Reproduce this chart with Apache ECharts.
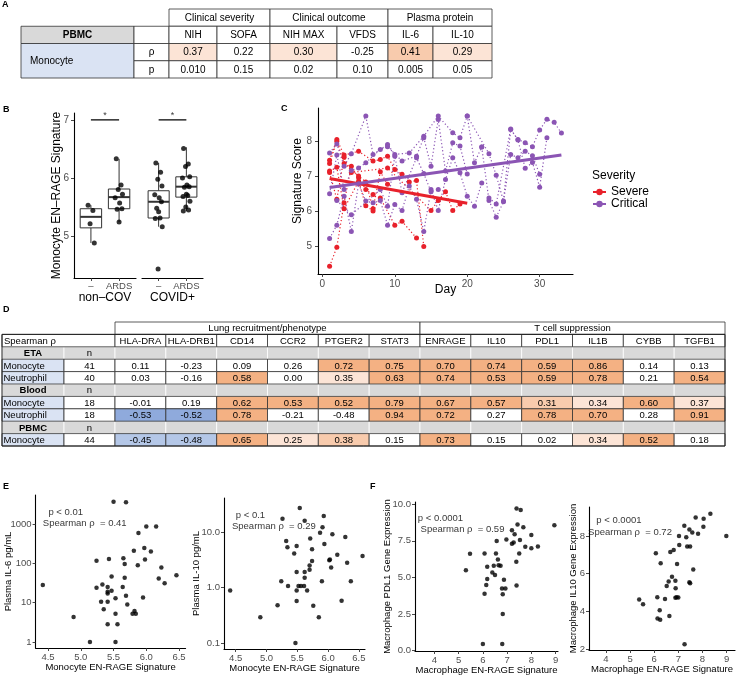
<!DOCTYPE html>
<html><head><meta charset="utf-8">
<script src="https://cdn.jsdelivr.net/npm/echarts@6/dist/echarts.min.js"></script>
<style>html,body{margin:0;padding:0;background:#fff}#c{width:736px;height:675px}</style>
</head><body><div id="c"></div>
<script>
const FONT = "'Liberation Sans', Arial, Helvetica, sans-serif";

// ---------------- Panel A data ----------------
const tableAGroups = ['Clinical severity', 'Clinical outcome', 'Plasma protein'];
const tableAColumns = ['NIH', 'SOFA', 'NIH MAX', 'VFDS', 'IL-6', 'IL-10'];
const tableARho = [0.37, 0.22, 0.30, -0.25, 0.41, 0.29];
const tableAP = ['0.010', '0.15', '0.02', '0.10', '0.005', '0.05'];
const tableATier = [1, 0, 1, 0, 2, 1];

// ---------------- Panel B data ----------------
const boxCategories = ['–', 'ARDS'];
const facetNames = ['non–COV', 'COVID+'];
const nonCovBox = [[4.88, 5.14, 5.33, 5.47, 5.53], [5.24, 5.47, 5.67, 5.81, 6.33]];
const covidBox = [[5.16, 5.31, 5.59, 5.78, 6.26], [5.43, 5.67, 5.85, 6.02, 6.53]];
const nonCovNeg = [5.53, 5.44, 5.21, 4.88];
const nonCovArds = [6.33, 5.88, 5.80, 5.72, 5.66, 5.57, 5.47, 5.46, 5.24];
const covidNeg = [6.26, 6.10, 5.98, 5.86, 5.71, 5.66, 5.59, 5.48, 5.42, 5.31, 5.30, 5.16, 4.43];
const covidArds = [6.51, 6.24, 6.20, 6.02, 6.00, 5.88, 5.85, 5.84, 5.72, 5.70, 5.68, 5.60, 5.50, 5.45, 5.43];
const sigLevel = 7.0;

// ---------------- Panel C data ----------------
const sev1 = [[1,4.41],[2,4.96],[3,6.23],[4,7.28],[5,6.95],[6,6.61],[7,6.47]];
const sev2 = [[1,7.45],[2,8.05],[3,7.60],[5,7.71],[7,7.43],[8,7.47],[9,7.57],[10,7.19],[11,7.05],[12,6.83],[13,6.87],[14,4.98]];
const sev3 = [[1,7.14],[2,7.25],[3,6.06],[5,6.85],[6,6.15],[7,6.00],[8,6.37],[10,5.59],[11,5.70],[13,5.22]];
const sev4 = [[1,7.36],[2,8.00],[3,7.36],[5,7.00],[6,6.83],[7,6.06],[8,7.12],[9,6.76]];
const sev5 = [[1,7.10],[2,6.33],[3,7.54],[4,7.10],[9,7.23],[15,6.01],[16,6.30],[17,6.55],[18,6.01],[19,6.20]];
const crit1 = [[1,7.66],[2,7.92],[3,7.28],[4,7.64],[6,8.72],[7,7.62],[9,7.90],[10,7.62],[12,7.66],[14,8.14],[16,8.72],[18,8.24],[19,8.10],[20,8.72],[21,7.38],[22,7.83]];
const crit2 = [[1,6.49],[2,7.60],[3,6.61],[4,7.16],[5,7.23],[6,7.38],[8,7.76],[9,7.84],[11,7.43],[13,7.57],[14,8.10],[15,7.28],[16,8.62],[17,7.14],[18,7.95],[19,7.86],[20,7.06]];
const crit3 = [[1,5.21],[2,5.59],[3,6.42],[4,5.41],[5,6.78],[6,6.28],[7,6.23],[8,6.30],[9,5.59],[10,6.18],[11,6.01],[12,6.71],[13,6.33],[14,5.41],[15,6.61],[16,6.01],[17,6.90],[18,7.52],[19,7.09],[20,6.42],[21,6.13],[22,6.80]];
const crit4 = [[2,6.30],[4,5.89],[8,6.61],[9,6.13],[10,7.57],[11,6.52],[13,7.52],[14,7.07],[15,6.55],[16,6.61]];
const crit5 = [[20,8.72],[23,7.64],[24,7.02],[25,6.28],[26,8.33],[27,8.05],[28,7.95],[29,7.84],[30,8.32],[31,8.63],[32,8.54],[33,8.23]];
const crit6 = [[22,7.83],[23,6.30],[24,5.82],[25,6.26],[26,7.62],[27,7.52],[28,7.71],[29,7.58],[30,7.05]];
const crit7 = [[23,6.37],[24,6.20],[26,8.35],[27,8.03],[28,7.22],[29,7.39],[30,6.68],[31,8.10]];
const severeTrend = [[1, 6.93], [20, 6.22]];
const criticalTrend = [[1, 6.67], [33, 7.60]];
const severityNames = ['Severe', 'Critical'];

// ---------------- Panel D data ----------------
const dGroups = ['Lung recruitment/phenotype', 'T cell suppression'];
const dGenes = ['HLA-DRA','HLA-DRB1','CD14','CCR2','PTGER2','STAT3','ENRAGE','IL10','PDL1','IL1B','CYBB','TGFB1'];
const dTissues = ['ETA', 'Blood', 'PBMC'];
const dCellTypes = ['Monocyte', 'Neutrophil', 'Monocyte', 'Neutrophil', 'Monocyte'];
const dTissueOf = [0, 0, 1, 1, 2];
const dN = [41, 40, 18, 18, 44];
const dRho = [
  [0.11, -0.23, 0.09, 0.26, 0.72, 0.75, 0.70, 0.74, 0.59, 0.86, 0.14, 0.13],
  [0.03, -0.16, 0.58, 0.00, 0.35, 0.63, 0.74, 0.53, 0.59, 0.78, 0.21, 0.54],
  [-0.01, 0.19, 0.62, 0.53, 0.52, 0.79, 0.67, 0.57, 0.31, 0.34, 0.60, 0.37],
  [-0.53, -0.52, 0.78, -0.21, -0.48, 0.94, 0.72, 0.27, 0.78, 0.70, 0.28, 0.91],
  [-0.45, -0.48, 0.65, 0.25, 0.38, 0.15, 0.73, 0.15, 0.02, 0.34, 0.52, 0.18]
];
const dTier = [
  [0,0,0,0,3,3,3,3,3,3,0,0],
  [0,0,3,0,1,3,3,3,3,3,0,3],
  [0,0,3,3,3,3,3,3,2,1,3,1],
  [-3,-3,3,0,0,3,3,0,3,3,0,3],
  [-2,-2,3,1,2,0,3,0,0,1,3,0]
];

// ---------------- Panel E / F data ----------------
const il6Data = [[5.50,3700],[5.69,3600],[6.00,870],[6.15,870],[5.88,590],[5.81,210],[5.97,245],[6.07,200],[5.98,125],[5.65,135],[5.43,130],[5.24,117],[5.67,96],[5.87,89],[6.23,79],[6.46,50],[5.47,46],[5.67,43],[6.19,41],[6.28,31],[5.33,29],[4.42,28],[5.24,24],[5.41,25],[5.64,25],[5.41,19],[5.47,20],[5.41,17],[5.53,13],[5.69,15],[5.95,13.5],[5.31,10.5],[5.41,10.5],[5.71,9],[5.35,6.8],[5.53,5.2],[5.82,6.1],[5.79,5.2],[5.84,5.2],[4.89,4.3],[5.41,2.8],[5.56,2.8],[5.14,1.0],[5.53,1.0]];
const il10Data = [[5.54,27],[5.26,17.3],[5.62,16],[5.93,19.5],[5.91,12.2],[5.87,9.7],[6.07,9.1],[6.28,8.1],[5.71,7.6],[5.32,6.9],[5.34,5.3],[5.49,5.6],[5.74,4.9],[5.94,6.1],[5.45,4.1],[6.15,3.9],[6.56,3.7],[5.74,3.0],[6.02,3.1],[6.03,3.2],[6.31,2.8],[5.70,2.5],[5.70,2.1],[6.05,2.3],[5.49,1.9],[5.62,1.9],[5.62,1.5],[5.24,1.3],[5.90,1.3],[6.37,1.3],[5.35,1.07],[5.52,1.07],[5.56,1.07],[5.61,1.07],[4.41,0.88],[5.49,0.88],[5.66,0.88],[5.49,0.57],[6.22,0.58],[5.18,0.48],[5.76,0.47],[4.90,0.29],[5.85,0.29],[5.47,0.10]];
const pdl1Data = [[7.39,9.70],[7.56,9.61],[8.95,8.57],[7.43,8.61],[7.67,8.43],[7.20,8.23],[7.31,7.95],[8.00,7.89],[6.97,7.59],[6.57,7.48],[7.53,7.55],[7.20,7.30],[7.27,7.39],[7.75,7.09],[8.00,7.00],[8.27,7.11],[5.47,6.61],[6.07,6.64],[6.54,6.64],[7.50,6.64],[6.62,6.23],[6.65,5.84],[6.73,5.80],[6.18,5.73],[7.38,6.07],[5.30,5.50],[6.45,5.80],[6.39,5.34],[6.50,5.16],[6.18,4.89],[6.87,4.84],[7.39,4.45],[6.14,4.48],[6.79,4.25],[6.93,4.25],[6.07,3.89],[6.82,3.86],[6.82,2.50],[6.00,0.45],[6.80,0.45]];
const macIl10Data = [[8.33,9.18],[7.72,8.98],[8.05,8.91],[7.25,8.54],[8.04,8.49],[7.46,8.35],[7.58,8.19],[7.82,8.12],[8.99,8.00],[7.03,8.00],[7.33,7.93],[6.81,7.26],[7.04,7.52],[7.37,7.45],[7.49,7.45],[6.67,7.15],[6.07,7.08],[6.27,6.55],[6.95,6.51],[7.62,6.22],[6.74,5.84],[6.60,5.58],[6.88,5.62],[7.46,5.55],[7.49,5.49],[6.52,5.35],[6.89,5.23],[6.13,4.75],[6.88,4.72],[6.93,4.75],[7.00,4.73],[6.45,4.66],[5.38,4.63],[5.54,4.38],[6.23,4.06],[6.14,3.62],[6.25,3.55],[6.63,3.75],[7.26,2.26]];
const statP = ['p < 0.01', 'p < 0.1', 'p < 0.0001', 'p < 0.0001'];
const statRho = ['0.41', '0.29', '0.59', '0.72'];

// ---------------- styling / layout constants ----------------
const RED = '#e8212b', PURPLE = '#8b55b4';
const GREY = '#d9d9d9', LBLUE = '#dae3f3';
const TIER_FILL = {'3':'#f4b183','2':'#f8cbad','1':'#fce4d6','0':'#ffffff','-2':'#b4c7e7','-3':'#8faadc'};
const colWA = [113, 35, 48, 53, 67, 51, 45, 59];
const colWD = [62, 51].concat(dGenes.map(() => 50.83));
const jitter = [-0.10, 0.07, -0.03, 0.12, -0.14, 0.02, 0.10, -0.07, 0.0, 0.05, -0.12, 0.13, -0.02, 0.08, -0.11];
// annotation anchor positions (data space of each panel)
const annotPos = [
  [[4.77, 2030], [5.06, 1020]],
  [[4.74, 20], [5.12, 12.8]],
  [[4.25, 9.05], [5.16, 8.3]],
  [[4.54, 8.85], [5.0, 8.21]]
];

function cumsum(w){ const e=[0]; w.forEach(v=>e.push(e[e.length-1]+v)); return e; }
const edgesA = cumsum(colWA), edgesD = cumsum(colWD);

// ---- table cells ----
const cellsA = [];
tableAGroups.forEach((g,i)=>cellsA.push({c0:2+2*i,c1:4+2*i,r0:0,r1:1,text:g,fs:10}));
cellsA.push({c0:0,c1:1,r0:1,r1:2,text:'PBMC',bold:true,fill:GREY,fs:10});
cellsA.push({c0:1,c1:2,r0:1,r1:2,text:''});
tableAColumns.forEach((t,i)=>cellsA.push({c0:2+i,c1:3+i,r0:1,r1:2,text:t,fs:10}));
cellsA.push({c0:0,c1:1,r0:2,r1:4,text:'Monocyte',align:'left',pad:9,fill:LBLUE,fs:10});
cellsA.push({c0:1,c1:2,r0:2,r1:3,text:'ρ',fs:10});
cellsA.push({c0:1,c1:2,r0:3,r1:4,text:'p',fs:10});
tableARho.forEach((v,i)=>cellsA.push({c0:2+i,c1:3+i,r0:2,r1:3,text:v.toFixed(2),fill:TIER_FILL[String(tableATier[i])],fs:10}));
tableAP.forEach((v,i)=>cellsA.push({c0:2+i,c1:3+i,r0:3,r1:4,text:v,fs:10}));

const greyD = [], cellsD0 = [];
dGroups.forEach((g,i)=>cellsD0.push({c0:2+6*i,c1:8+6*i,r0:0,r1:1,text:g,fs:9.5}));
cellsD0.push({c0:0,c1:2,r0:1,r1:2,text:'Spearman ρ',align:'left',pad:2,fs:9.5});
dGenes.forEach((g,i)=>cellsD0.push({c0:2+i,c1:3+i,r0:1,r1:2,text:g,fs:9.5}));
let rr = 2;
dTissues.forEach((t,ti)=>{
  greyD.push({c0:0,c1:1,r0:rr,r1:rr+1,text:t,bold:true,fill:GREY,stroke:'#fff',fs:9.5});
  greyD.push({c0:1,c1:2,r0:rr,r1:rr+1,text:'n',fill:GREY,stroke:'#fff',fs:9.5});
  dGenes.forEach((g,i)=>greyD.push({c0:2+i,c1:3+i,r0:rr,r1:rr+1,text:'',fill:GREY,stroke:'#fff'}));
  rr++;
  dCellTypes.forEach((ct,ri)=>{
    if (dTissueOf[ri] !== ti) return;
    cellsD0.push({c0:0,c1:1,r0:rr,r1:rr+1,text:ct,align:'left',pad:1.5,fill:LBLUE,fs:9.5});
    cellsD0.push({c0:1,c1:2,r0:rr,r1:rr+1,text:String(dN[ri]),fs:9.5});
    dRho[ri].forEach((v,i)=>cellsD0.push({c0:2+i,c1:3+i,r0:rr,r1:rr+1,text:v.toFixed(2),fill:TIER_FILL[String(dTier[ri][i])],fs:9.5}));
    rr++;
  });
});
const cellsD = greyD.concat(cellsD0, [{c0:0,c1:14,r0:1,r1:rr,text:'',fill:'none',stroke:'#222',lw:1}]);

function tableSeries(cells, edges, idx){
  return {
    type:'custom', xAxisIndex:idx, yAxisIndex:idx, silent:true, clip:false,
    data: cells.map((c,i)=>[edges[c.c0], c.r0, i]),
    encode:{x:0,y:1},
    renderItem(params, api){
      const c = cells[api.value(2)];
      const p0 = api.coord([edges[c.c0], c.r0]);
      const p1 = api.coord([edges[c.c1], c.r1]);
      const ch = [{type:'rect', shape:{x:p0[0], y:p0[1], width:p1[0]-p0[0], height:p1[1]-p0[1]},
        style:{fill:c.fill||'#fff', stroke:c.stroke||'#333', lineWidth:c.lw||0.8}}];
      if (c.text) {
        const tx = c.align==='left' ? p0[0]+(c.pad||2) : (p0[0]+p1[0])/2;
        ch.push({type:'text', style:{text:c.text, x:tx, y:(p0[1]+p1[1])/2+0.5, fill:'#000',
          fontSize:c.fs, fontFamily:FONT, fontWeight:c.bold?'bold':'normal',
          align:c.align||'center', verticalAlign:'middle'}});
      }
      return {type:'group', children:ch};
    }
  };
}

// ---- axes helpers ----
function vAxis(o){
  const ax = {
    gridIndex:o.grid, type:o.type||'value', min:o.min, max:o.max, inverse:!!o.inverse, show:o.show!==false,
    axisLine:{show:true, onZero:false, lineStyle:{color:'#000', width:1.1}},
    axisTick:{show:true, length:3, lineStyle:{color:'#333', width:0.9}},
    axisLabel:{color:'#4d4d4d', fontSize:o.fs||9.5, fontFamily:FONT, margin:(o.margin!==undefined?o.margin:4)},
    splitLine:{show:false}, minorTick:{show:false}
  };
  if (o.type === 'log') {
    ax.logBase = 10;
    ax.axisLabel.showMinLabel = false; ax.axisLabel.showMaxLabel = false;
  }
  if (o.ticks) { ax.axisLabel.customValues = o.ticks; ax.axisTick.customValues = o.ticks; }
  if (o.fmt) ax.axisLabel.formatter = o.fmt;
  if (o.name) {
    ax.name = o.name; ax.nameLocation = 'middle'; ax.nameGap = o.nameGap;
    ax.nameMoveOverlap = false;
    ax.nameTextStyle = {color:'#000', fontSize:o.nameFs||9.5, fontFamily:FONT};
    if (o.namePad) ax.nameTextStyle.padding = o.namePad;
  }
  return ax;
}
function hidden(grid, min, max, inverse){
  return {gridIndex:grid, type:'value', min, max, inverse:!!inverse, show:false, splitLine:{show:false}};
}

const grids = [
  {left:21, top:9, width:471, height:69},
  {left:74, top:113, width:62, height:165},
  {left:142, top:113, width:61, height:165},
  {left:318, top:108, width:255, height:166},
  {left:2, top:322, width:723, height:124},
  {left:35.6, top:495, width:150, height:153},
  {left:224, top:498, width:141, height:151},
  {left:415, top:502, width:143, height:149},
  {left:589, top:507, width:146, height:143}
].map(g=>Object.assign({outerBoundsMode:'none', containLabel:false}, g));

const catFmt = v => boxCategories[Math.round(v)-1] || '';
const xAxes = [
  hidden(0, 0, edgesA[edgesA.length-1]),
  vAxis({grid:1, min:0.4, max:2.6, ticks:[1,2], fmt:catFmt, fs:9.5, margin:3, name:facetNames[0], nameGap:14, nameFs:12}),
  vAxis({grid:2, min:0.4, max:2.6, ticks:[1,2], fmt:catFmt, fs:9.5, margin:3, name:facetNames[1], nameGap:14, nameFs:12}),
  vAxis({grid:3, min:-0.6, max:34.6, ticks:[0,10,20,30], fs:10, margin:5, name:'Day', nameGap:10, nameFs:12}),
  hidden(4, 0, edgesD[edgesD.length-1]),
  vAxis({grid:5, min:4.31, max:6.6, ticks:[4.5,5,5.5,6,6.5], fmt:v=>v.toFixed(1), name:'Monocyte EN-RAGE Signature', nameGap:14}),
  vAxis({grid:6, min:4.31, max:6.6, ticks:[4.5,5,5.5,6,6.5], fmt:v=>v.toFixed(1), name:'Monocyte EN-RAGE Signature', nameGap:14}),
  vAxis({grid:7, min:3.2, max:9.1, ticks:[4,5,6,7,8,9], name:'Macrophage EN-RAGE Signature', nameGap:14}),
  vAxis({grid:8, min:3.3, max:9.35, ticks:[4,5,6,7,8,9], name:'Macrophage EN-RAGE Signature', nameGap:14})
];
const yAxes = [
  hidden(0, 0, 4, true),
  vAxis({grid:1, min:4.276, max:7.12, ticks:[5,6,7], fs:10, margin:5, name:'Monocyte EN–RAGE Signature', nameGap:11, nameFs:12}),
  vAxis({grid:2, min:4.276, max:7.12, show:false}),
  vAxis({grid:3, min:4.19, max:8.95, ticks:[5,6,7,8], fs:10, margin:6, name:'Signature Score', nameGap:14, nameFs:12, namePad:[0,0,0,20]}),
  hidden(4, 0, 10, true),
  vAxis({grid:5, type:'log', min:0.7, max:5500, fmt:v=>String(Math.round(v)), name:'Plasma IL-6 pg/mL', nameGap:22}),
  vAxis({grid:6, type:'log', min:0.078, max:41, fmt:v=>Number(v).toFixed(1), name:'Plasma IL-10 pg/mL', nameGap:23}),
  vAxis({grid:7, min:-0.02, max:10.15, ticks:[0,2.5,5,7.5,10], fmt:v=>v.toFixed(1), name:'Macrophage PDL1 Gene Expression', nameGap:22.5}),
  vAxis({grid:8, min:1.95, max:9.54, ticks:[2,4,6,8], name:'Macrophage IL10 Gene Expression', nameGap:11})
];

// ---- series ----
const series = [];
series.push(tableSeries(cellsA, edgesA, 0));
series.push(tableSeries(cellsD, edgesD, 4));

function boxSeries(boxes, idx){
  return {
    type:'custom', xAxisIndex:idx, yAxisIndex:idx, silent:true, z:2,
    data: boxes.map((b,i)=>[i+1].concat(b)),
    encode:{x:0, y:[1,2,3,4,5]},
    renderItem(params, api){
      const x = api.value(0), hw = 0.38;
      const mn = api.value(1), q1 = api.value(2), md = api.value(3), q3 = api.value(4), mx = api.value(5);
      const tl = api.coord([x-hw, q3]), br = api.coord([x+hw, q1]);
      const pMax = api.coord([x, mx]), pMin = api.coord([x, mn]);
      const mL = api.coord([x-hw, md]), mR = api.coord([x+hw, md]);
      const st = {stroke:'#333', lineWidth:1};
      return {type:'group', children:[
        {type:'line', shape:{x1:pMax[0],y1:pMax[1],x2:pMax[0],y2:tl[1]}, style:st},
        {type:'line', shape:{x1:pMin[0],y1:br[1],x2:pMin[0],y2:pMin[1]}, style:st},
        {type:'rect', shape:{x:tl[0],y:tl[1],width:br[0]-tl[0],height:br[1]-tl[1]}, style:{fill:'#fff',stroke:'#333',lineWidth:1}},
        {type:'line', shape:{x1:mL[0],y1:mL[1],x2:mR[0],y2:mR[1]}, style:{stroke:'#333',lineWidth:2}}
      ]};
    }
  };
}
function jitterPts(vals, cat){ return vals.map((v,i)=>[cat + jitter[i % jitter.length], v]); }
function dots(data, idx, size, z){
  return {type:'scatter', xAxisIndex:idx, yAxisIndex:idx, data, symbol:'circle', symbolSize:size||4.5,
    itemStyle:{color:'#000'}, silent:true, z:z||3};
}
series.push(boxSeries(nonCovBox, 1));
series.push(boxSeries(covidBox, 2));
series.push(dots(jitterPts(nonCovNeg,1).concat(jitterPts(nonCovArds,2)), 1, 5));
series.push(dots(jitterPts(covidNeg,1).concat(jitterPts(covidArds,2)), 2, 5));
[1,2].forEach(idx=>{
  series.push({type:'line', xAxisIndex:idx, yAxisIndex:idx, data:[[1,sigLevel],[2,sigLevel]], symbol:'none',
    lineStyle:{color:'#000', width:1.3}, silent:true});
  series.push({type:'scatter', xAxisIndex:idx, yAxisIndex:idx, data:[[1.5,sigLevel]], symbolSize:0, silent:true,
    label:{show:true, position:'top', distance:0, formatter:'*', color:'#000', fontSize:9, fontFamily:FONT}});
});

// Panel C
[sev1,sev2,sev3,sev4,sev5].forEach((d,i)=>series.push({
  name:'sev'+i, type:'line', xAxisIndex:3, yAxisIndex:3, data:d, symbol:'circle', symbolSize:5,
  lineStyle:{color:RED, width:1.2, type:[1.2,2.4]}, itemStyle:{color:RED}, silent:true, z:2}));
[crit1,crit2,crit3,crit4,crit5,crit6,crit7].forEach((d,i)=>series.push({
  name:'crit'+i, type:'line', xAxisIndex:3, yAxisIndex:3, data:d, symbol:'circle', symbolSize:5,
  lineStyle:{color:PURPLE, width:1.2, type:[1.2,2.4]}, itemStyle:{color:PURPLE}, silent:true, z:2}));
series.push({name:severityNames[0], type:'line', xAxisIndex:3, yAxisIndex:3, data:severeTrend, symbol:'circle', symbolSize:5,
  showSymbol:false, lineStyle:{color:RED, width:3}, itemStyle:{color:RED}, silent:true, z:4});
series.push({name:severityNames[1], type:'line', xAxisIndex:3, yAxisIndex:3, data:criticalTrend, symbol:'circle', symbolSize:5,
  showSymbol:false, lineStyle:{color:PURPLE, width:3}, itemStyle:{color:PURPLE}, silent:true, z:4});

// Panels E/F
[il6Data, il10Data, pdl1Data, macIl10Data].forEach((d,k)=>{
  const idx = 5 + k;
  series.push(dots(d, idx, 4.5));
  series.push({type:'scatter', xAxisIndex:idx, yAxisIndex:idx, symbolSize:0, silent:true,
    data:[annotPos[k][0]], label:{show:true, position:'inside', formatter:statP[k], color:'#000', fontSize:9.5, fontFamily:FONT}});
  series.push({type:'scatter', xAxisIndex:idx, yAxisIndex:idx, symbolSize:0, silent:true,
    data:[annotPos[k][1]], label:{show:true, position:'inside', formatter:'Spearman ρ  = ' + statRho[k], color:'#000', fontSize:9.5, fontFamily:FONT}});
});

function letter(t, left, top){
  return {text:t, left, top, padding:0, textStyle:{fontSize:9, fontWeight:'bold', color:'#000', fontFamily:FONT}};
}

const chart = echarts.init(document.getElementById('c'), null, {renderer:'canvas', width:736, height:675});
chart.setOption({
  animation:false,
  backgroundColor:'#fff',
  textStyle:{fontFamily:FONT},
  title:[
    letter('A', 2, 0), letter('B', 3, 105), letter('C', 281, 104), letter('D', 3, 305),
    letter('E', 3, 482), letter('F', 370, 482),
    {text:'Severity', left:592, top:170, padding:0, textStyle:{fontSize:12, fontWeight:'normal', color:'#000', fontFamily:FONT}}
  ],
  legend:{data:severityNames, orient:'vertical', left:592, top:186, itemWidth:13, itemHeight:8, itemGap:0, padding:0,
    selectedMode:false, textStyle:{fontSize:12, lineHeight:11, color:'#000', fontFamily:FONT}},
  grid:grids, xAxis:xAxes, yAxis:yAxes, series
});
</script></body></html>
